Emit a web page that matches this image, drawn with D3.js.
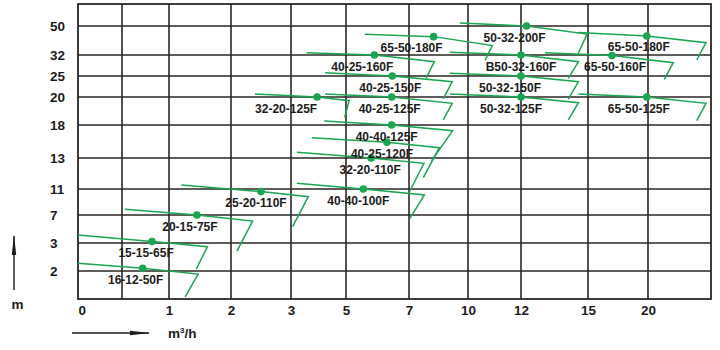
<!DOCTYPE html>
<html>
<head>
<meta charset="utf-8">
<script src="https://cdn.jsdelivr.net/npm/d3@7"></script>
<style>
body { margin: 0; background: #fff; }
svg text { font-family: "Liberation Sans", Arial, sans-serif; font-weight: bold; fill: #1c1c1c; }
</style>
</head>
<body>
<div id="chart-area"></div>
<script>
// ---- DATA
// pump models
var pumps = ["16-12-50F", "15-15-65F", "20-15-75F", "25-20-110F", "40-40-100F",
    "32-20-110F", "40-25-120F", "40-40-125F", "40-25-125F", "32-20-125F",
    "40-25-150F", "40-25-160F", "65-50-180F", "50-32-200F", "65-50-180F",
    "B50-32-160F", "65-50-160F", "50-32-150F", "50-32-125F", "65-50-125F"];

// rated point (flow m3/h, head m)
var flowQ = [0.72, 0.82, 1.45, 2.5, 5.55, 5.8, 6.3, 6.45, 6.45, 3.95,
    6.47, 5.9, 8.25, 12.25, 19.9, 12, 17, 12, 12, 19.9];
var headH = [2.1, 3.2, 7, 10.6, 11, 13, 15.4, 18, 20, 20,
    25, 32, 43.4, 50, 43.8, 32, 31.8, 25, 20, 20];

// curve start (left end)
var startQ = [0, 0, 0.53, 1.2, 3.21, 3.21, 3.75, 4.21, 4.24, 2.4,
    4.24, 3.57, 5.6, 9.59, 14.57, 9.08, 13.07, 9.08, 9.08, 14.57];
var startH = [2.28, 4.14, 7.88, 11.26, 11.37, 13.86, 16.08, 18.29, 20.71, 20.71,
    26.1, 33.43, 44.85, 51.36, 45.97, 33.68, 33.43, 25.9, 20.71, 20.71];

// curve end (right end)
var endQ = [1.47, 1.62, 2.36, 3.63, 7.78, 7.76, 8.54, 9.22, 9.2, 5.1,
    9.2, 8.29, 10.92, 14.96, 24.6, 14.57, 22.01, 14.57, 14.57, 24.6];
var endH = [1.89, 2.87, 6.14, 9.82, 10.08, 12.66, 14.56, 17.14, 19.55, 19.74,
    23.64, 29.77, 37.9, 45.04, 39.64, 29.77, 29.43, 23.64, 19.59, 19.55];

// lower end of the range limit
var lowQ = [1.26, 1.44, 2.1, 3.06, 7.05, 7.02, 7.73, 8.15, 8.74, 4.95,
    8.74, 7.86, 10.64, 14.51, 23.87, 14.12, 21.29, 14.12, 14.12, 23.87];
var lowH = [1.08, 2.07, 2.71, 5.33, 6.53, 10.58, 11.73, 12.83, 18.36, 18.54,
    19.86, 24.45, 30.17, 31.67, 30.33, 24.45, 24.21, 19.84, 18.36, 18.31];

// axis ticks
var xTicks = [0, 1, 2, 3, 5, 7, 10, 12, 15, 20];
var yTicks = [2, 3, 7, 11, 13, 18, 20, 25, 32, 50];

// ---- LAYOUT
var width = 720;
var height = 350;
var green = "#1ba552";
var gridColor = "#2b2623";
// horizontal shift of each model label (px)
var labelDx = [-7, -6, -7, -5, -5, -1, -5, -5, -2, -31,
    -2, -12, -22, -12, -8, 0, 3, -11, -10, -8];

var svg = d3.select("#chart-area")
    .append("svg")
    .attr("width", width)
    .attr("height", height);

// SCALES (uneven grid, piecewise)
var x = d3.scaleLinear()
    .domain([0, 0.5, 1, 2, 3, 5, 7, 10, 12, 15, 20, 25])
    .range([78, 122, 169, 231, 291, 346, 409, 468, 521, 588, 648, 711]);

var y = d3.scaleLinear()
    .domain([1, 2, 3, 7, 11, 13, 18, 20, 25, 32, 50, 60])
    .range([299, 271, 243, 215, 189, 158, 125, 97, 76, 55, 26, 4]);

var x0 = x(0), x1 = x(25), yTop = y(60), yBot = y(1);

//GRID
var grid = svg.append("g");
grid.selectAll(".vline")
    .data([0.5].concat(xTicks.slice(1)))
    .enter().append("line")
    .attr("x1", (d) => x(d)).attr("x2", (d) => x(d))
    .attr("y1", yTop).attr("y2", yBot)
    .attr("stroke", gridColor).attr("stroke-width", 1.6);

grid.selectAll(".hline")
    .data(yTicks)
    .enter().append("line")
    .attr("x1", x0).attr("x2", x1)
    .attr("y1", (d) => y(d)).attr("y2", (d) => y(d))
    .attr("stroke", gridColor).attr("stroke-width", 1.6);

grid.append("rect")
    .attr("x", x0).attr("y", yTop)
    .attr("width", x1 - x0).attr("height", yBot - yTop)
    .attr("fill", "none")
    .attr("stroke", gridColor).attr("stroke-width", 1.8);

//AXIS labels
var xAxis = d3.axisBottom(x).tickValues(xTicks).tickSize(0).tickPadding(0);
var xAxisGroup = svg.append("g")
    .attr("transform", "translate(0," + yBot + ")")
    .call(xAxis);
xAxisGroup.select(".domain").remove();
xAxisGroup.selectAll("text")
    .attr("y", 16)
    .attr("dy", 0)
    .attr("font-size", "13.5px")
    .attr("text-anchor", (d) => d === 0 ? "start" : "middle")
    .style("font-family", null);

var yAxis = d3.axisLeft(y).tickValues(yTicks).tickSize(0);
var yAxisGroup = svg.append("g")
    .attr("transform", "translate(" + x0 + ",0)")
    .call(yAxis);
yAxisGroup.select(".domain").remove();
yAxisGroup.selectAll("text")
    .attr("x", -28)
    .attr("dy", "0.36em")
    .attr("font-size", "13.5px")
    .attr("text-anchor", "start")
    .style("font-family", null);

// units with arrows
var defs = svg.append("defs");
defs.append("marker")
    .attr("id", "arrow")
    .attr("viewBox", "0 0 20 6")
    .attr("refX", 19).attr("refY", 3)
    .attr("markerWidth", 20).attr("markerHeight", 6)
    .attr("markerUnits", "userSpaceOnUse")
    .attr("orient", "auto")
    .append("path")
    .attr("d", "M0,0.8 L20,3 L0,5.2 Z")
    .attr("fill", "#1c1c1c");

svg.append("line")
    .attr("x1", 14).attr("y1", 290)
    .attr("x2", 14).attr("y2", 236)
    .attr("stroke", "#1c1c1c").attr("stroke-width", 1.4)
    .attr("marker-end", "url(#arrow)");

svg.append("text")
    .attr("x", 17.5).attr("y", 309)
    .attr("text-anchor", "middle")
    .attr("font-size", "13.5px")
    .text("m");

svg.append("line")
    .attr("x1", 72).attr("y1", 333)
    .attr("x2", 149).attr("y2", 333)
    .attr("stroke", "#1c1c1c").attr("stroke-width", 1.4)
    .attr("marker-end", "url(#arrow)");

var unit = svg.append("text")
    .attr("x", 168).attr("y", 338)
    .attr("font-size", "13.5px");
unit.append("tspan").text("m");
unit.append("tspan").attr("font-size", "8px").attr("dy", -5).text("3");
unit.append("tspan").attr("dy", 5).text("/h");

// ---- PUMP CURVES
var line = d3.line()
    .x((d) => x(d[0]))
    .y((d) => y(d[1]));

var curves = svg.append("g");
pumps.forEach((name, i) => {
    var pts = [[startQ[i], startH[i]], [flowQ[i], headH[i]],
        [endQ[i], endH[i]], [lowQ[i], lowH[i]]];
    curves.append("path")
        .attr("d", line(pts))
        .attr("fill", "none")
        .attr("stroke", green)
        .attr("stroke-width", 1.5)
        .attr("stroke-linejoin", "miter");
});

curves.selectAll("circle")
    .data(pumps)
    .enter().append("circle")
    .attr("cx", (d, i) => x(flowQ[i]))
    .attr("cy", (d, i) => y(headH[i]))
    .attr("r", 3.8)
    .attr("fill", green);

curves.selectAll(".model")
    .data(pumps)
    .enter().append("text")
    .attr("class", "model")
    .attr("x", (d, i) => x(flowQ[i]) + labelDx[i])
    .attr("y", (d, i) => y(headH[i]) + 15.5)
    .attr("text-anchor", "middle")
    .attr("font-size", "12px")
    .text((d) => d);
</script>
</body>
</html>
